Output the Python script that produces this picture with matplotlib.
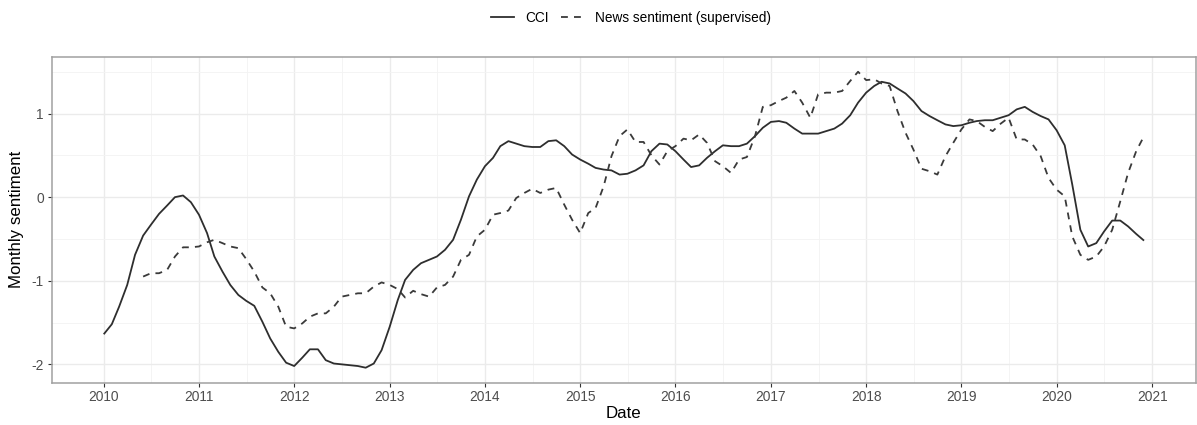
import matplotlib
matplotlib.use("Agg")
import matplotlib.pyplot as plt
import matplotlib.dates as mdates
from matplotlib.lines import Line2D
import numpy as np
import pandas as pd

plt.rcParams['font.family'] = ['Liberation Sans', 'DejaVu Sans']

cci_start = "2010-01-01"
cci_values = [
    -1.64, -1.52, -1.31, -1.05, -0.69, -0.46, -0.33, -0.20, -0.10, 0.00, 0.02, -0.06,
    -0.21, -0.43, -0.71, -0.89, -1.05, -1.17, -1.24, -1.30, -1.49, -1.69, -1.85, -1.98,
    -2.02, -1.92, -1.82, -1.82, -1.95, -1.99, -2.00, -2.01, -2.02, -2.04, -1.99, -1.83,
    -1.55, -1.23, -0.99, -0.87, -0.79, -0.75, -0.71, -0.63, -0.51, -0.27, 0.01, 0.21,
    0.37, 0.47, 0.61, 0.67, 0.64, 0.61, 0.60, 0.60, 0.67, 0.68, 0.61, 0.51,
    0.45, 0.40, 0.35, 0.33, 0.32, 0.27, 0.28, 0.32, 0.38, 0.55, 0.64, 0.63,
    0.55, 0.45, 0.36, 0.38, 0.47, 0.55, 0.62, 0.61, 0.61, 0.64, 0.73, 0.83,
    0.90, 0.91, 0.89, 0.82, 0.76, 0.76, 0.76, 0.79, 0.82, 0.88, 0.98, 1.13,
    1.25, 1.33, 1.38, 1.36, 1.30, 1.24, 1.15, 1.03, 0.97, 0.92, 0.87, 0.85,
    0.86, 0.89, 0.91, 0.92, 0.92, 0.95, 0.98, 1.05, 1.08, 1.02, 0.97, 0.93,
    0.80, 0.62, 0.15, -0.39, -0.59, -0.55, -0.41, -0.28, -0.28, -0.35, -0.44, -0.52,
]

news_start = "2010-06-01"
news_values = [
    -0.95, -0.91, -0.91, -0.87, -0.71, -0.60, -0.60,
    -0.59, -0.54, -0.51, -0.55, -0.59, -0.61, -0.74, -0.89, -1.08, -1.15, -1.31, -1.55,
    -1.57, -1.51, -1.43, -1.39, -1.39, -1.31, -1.19, -1.17, -1.15, -1.15, -1.07, -1.02,
    -1.05, -1.10, -1.20, -1.12, -1.16, -1.19, -1.08, -1.05, -0.95, -0.75, -0.69, -0.47,
    -0.39, -0.21, -0.19, -0.16, -0.01, 0.05, 0.10, 0.05, 0.09, 0.11, -0.09, -0.27,
    -0.43, -0.19, -0.13, 0.13, 0.49, 0.73, 0.81, 0.66, 0.66, 0.50, 0.39, 0.55,
    0.61, 0.70, 0.68, 0.75, 0.65, 0.43, 0.37, 0.29, 0.45, 0.48, 0.73, 1.08,
    1.10, 1.15, 1.19, 1.27, 1.13, 0.95, 1.23, 1.25, 1.25, 1.27, 1.39, 1.50,
    1.40, 1.41, 1.36, 1.33, 1.03, 0.77, 0.57, 0.34, 0.31, 0.27, 0.49, 0.65,
    0.81, 0.93, 0.91, 0.84, 0.79, 0.88, 0.95, 0.69, 0.69, 0.63, 0.49, 0.23,
    0.09, 0.01, -0.47, -0.69, -0.75, -0.71, -0.59, -0.39, -0.05, 0.29, 0.55, 0.73,
]

series_labels = ["CCI", "News sentiment (supervised)"]
year_ticks = list(range(2010, 2022))
y_ticks = [-2, -1, 0, 1]
x_label = "Date"
y_label = "Monthly sentiment"

cci_dates = pd.date_range(cci_start, periods=len(cci_values), freq="MS")
news_dates = pd.date_range(news_start, periods=len(news_values), freq="MS")

fig = plt.figure(figsize=(11.97, 4.25), dpi=100)
ax = fig.add_axes([0.0432, 0.100, 0.9560, 0.766])

line_color = "#2e2e2e"
ax.plot(cci_dates, cci_values, color=line_color, lw=1.3, solid_capstyle="butt",
        label=series_labels[0], zorder=3)
ax.plot(news_dates, news_values, color="#3a3a3a", lw=1.3, dashes=(3.8, 3.4),
        label=series_labels[1], zorder=3)

# limits with 5% expansion like ggplot
all_dates = cci_dates.union(news_dates)
xmin = mdates.date2num(all_dates.min())
xmax = mdates.date2num(all_dates.max())
xpad = (xmax - xmin) * 0.05
ax.set_xlim(xmin - xpad, xmax + xpad)
allv = np.array(cci_values + news_values)
ypad = (allv.max() - allv.min()) * 0.05
ax.set_ylim(allv.min() - ypad, allv.max() + ypad)

major_x = [mdates.date2num(pd.Timestamp(f"{y}-01-01")) for y in year_ticks]
minor_x = [(major_x[i] + major_x[i + 1]) / 2 for i in range(len(major_x) - 1)]
ax.set_xticks(major_x)
ax.set_xticklabels([str(y) for y in year_ticks])
ax.set_xticks(minor_x, minor=True)
ax.set_yticks(y_ticks)
ax.set_yticklabels([str(v) for v in y_ticks])
ax.set_yticks([-1.5, -0.5, 0.5, 1.5], minor=True)

ax.grid(which="major", color="#EBEBEB", lw=1.0, zorder=0)
ax.grid(which="minor", color="#F3F3F3", lw=0.6, zorder=0)
ax.set_axisbelow(True)

for s in ax.spines.values():
    s.set_color("#A0A0A0")
    s.set_linewidth(1.1)

ax.tick_params(which="major", length=3.2, width=0.8, color="#333333",
               labelsize=9.9, labelcolor="#4D4D4D", pad=2.5)
ax.tick_params(which="minor", length=0)

ax.set_xlabel(x_label, fontsize=12.2, color="black", labelpad=1)
ax.set_ylabel(y_label, fontsize=12.2, color="black", labelpad=5)

handles = [
    Line2D([0], [0], color=line_color, lw=1.3),
    Line2D([0], [0], color="#3a3a3a", lw=1.3, dashes=(3.8, 3.4)),
]
fig.legend(handles, series_labels, loc="center", bbox_to_anchor=(0.527, 0.958),
           ncol=2, frameon=False, fontsize=9.8, handlelength=1.7,
           handletextpad=0.8, columnspacing=0.9)

fig.savefig("out.png", dpi=100)
